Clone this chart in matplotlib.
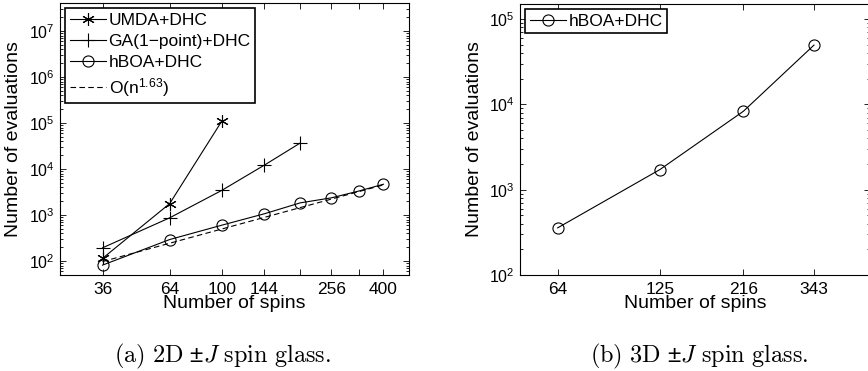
import matplotlib
matplotlib.use("Agg")
import matplotlib.pyplot as plt
from matplotlib.ticker import FixedLocator, FixedFormatter, LogLocator, LogFormatterSciNotation, NullFormatter

plt.rcParams['font.family'] = ['Liberation Sans', 'DejaVu Sans']
plt.rcParams['mathtext.fontset'] = 'custom'
plt.rcParams['mathtext.rm'] = 'Liberation Sans'
plt.rcParams['mathtext.it'] = 'Liberation Sans:italic'
plt.rcParams['mathtext.default'] = 'regular'

# 2D spin glass (left)
n2d = [36, 64, 100, 144, 196, 256, 324, 400]
n2d_ticks = [36, 64, 100, 144, 256, 400]
umda_n = [36, 64, 100]
umda_evals = [115, 1780, 110000]
ga_n = [36, 64, 100, 144, 196]
ga_evals = [195, 875, 3450, 12200, 37000]
hboa2_n = [36, 64, 100, 144, 196, 256, 324, 400]
hboa2_evals = [82, 295, 605, 1070, 1850, 2380, 3350, 4700]
fit_n = [36, 400]
fit_evals = [98, 4550]

# 3D spin glass (right)
n3d = [64, 125, 216, 343]
hboa3_evals = [357, 1720, 8300, 49500]

fig = plt.figure(figsize=(8.68, 3.71), dpi=100)
ax1 = fig.add_axes([60/868, 96/371, 349/868, 272/371])
ax2 = fig.add_axes([520/868, 96/371, 350/868, 271/371])

lw = 0.8
ax1.plot(umda_n, umda_evals, color='k', lw=lw, marker=(6, 2, 0), ms=9, mew=0.8, label='UMDA+DHC')
ax1.plot(ga_n, ga_evals, color='k', lw=lw, marker='+', ms=10, mew=0.8, label='GA(1\u2212point)+DHC')
ax1.plot(hboa2_n, hboa2_evals, color='k', lw=lw, marker='o', ms=8, mfc='none', mew=0.8, label='hBOA+DHC')
ax1.plot(fit_n, fit_evals, color='k', lw=lw, ls=(0, (5, 3)), label='O(n$^{1.63}$)')

ax2.plot(n3d, hboa3_evals, color='k', lw=lw, marker='o', ms=8, mfc='none', mew=0.8, label='hBOA+DHC')

for ax, xt, xl, yl in [(ax1, n2d, (25, 498), (50, 4.1e7)), (ax2, n3d, (50, 495), (100, 1.5e5))]:
    ax.set_xscale('log')
    ax.set_yscale('log')
    ax.set_xlim(*xl)
    ax.set_ylim(*yl)
    ax.xaxis.set_major_locator(FixedLocator(xt))
    ax.xaxis.set_minor_locator(FixedLocator([]))
    ax.yaxis.set_major_locator(LogLocator(base=10, numticks=20))
    ax.yaxis.set_major_formatter(LogFormatterSciNotation())
    ax.yaxis.set_minor_locator(LogLocator(base=10, subs=range(2, 10), numticks=20))
    ax.yaxis.set_minor_formatter(NullFormatter())
    ax.tick_params(which='both', direction='in', top=True, right=True, width=0.6)
    ax.tick_params(which='major', length=4)
    ax.tick_params(which='minor', length=2)
    ax.tick_params(axis='x', labelsize=12.5, pad=5)
    ax.tick_params(axis='y', labelsize=11.5, pad=4)
    for s in ax.spines.values():
        s.set_linewidth(0.8)
    ax.set_xlabel('Number of spins', fontsize=14)
    ax.set_ylabel('Number of evaluations', fontsize=14)
    ax.xaxis.set_label_coords(0.5, -0.075)

ax1.xaxis.set_major_formatter(FixedFormatter([str(v) if v in n2d_ticks else '' for v in n2d]))
ax2.xaxis.set_major_formatter(FixedFormatter([str(v) for v in n3d]))
ax1.yaxis.set_label_coords(-0.108, 0.5)
ax2.yaxis.set_label_coords(-0.106, 0.5)

leg_kw = dict(loc='upper left', fontsize=12.5, numpoints=1, handlelength=2.1, handletextpad=0.15,
              borderpad=0.25, labelspacing=0.35, borderaxespad=0.3, fancybox=False, framealpha=1,
              edgecolor='k')
l1 = ax1.legend(**leg_kw)
l1.get_frame().set_linewidth(1.2)
l2 = ax2.legend(**leg_kw)
l2.get_frame().set_linewidth(1.2)

cap_kw = dict(fontsize=17.5, math_fontfamily='cm', ha='center', va='center')
fig.text(223/868, 15/371, r'$\mathrm{(a)\ 2D}\ {\pm}\mathit{J}\ \mathrm{spin\ glass.}$', **cap_kw)
fig.text(699/868, 15/371, r'$\mathrm{(b)\ 3D}\ {\pm}\mathit{J}\ \mathrm{spin\ glass.}$', **cap_kw)

fig.savefig('out.png', dpi=100)
